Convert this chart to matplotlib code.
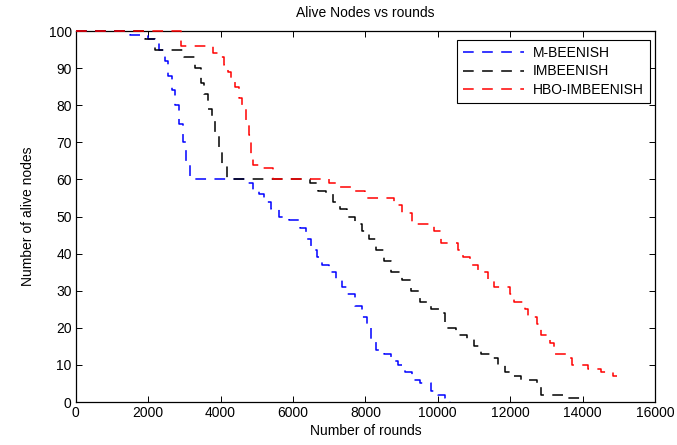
import matplotlib
matplotlib.use("Agg")
import matplotlib.pyplot as plt

# step breakpoints (value holds until the next round)
m_rounds = [0, 1500, 2000, 2300, 2450, 2550, 2650, 2750, 2850, 2950,
            3050, 3150, 4700, 4900, 5050, 5200, 5400, 5600, 5900, 6200,
            6350, 6500, 6650, 6800, 7000, 7200, 7350, 7500, 7700, 7900,
            8050, 8150, 8300, 8500, 8700, 8900, 9100, 9300, 9500, 9800,
            10000, 10200, 10350]
m_alive = [100, 99, 98, 95, 92, 88, 84, 80, 75, 70,
           65, 60, 59, 57, 56, 54, 52, 50, 49, 47,
           44, 41, 39, 37, 35, 33, 31, 29, 26, 23,
           20, 17, 14, 13, 11, 10, 8, 6, 5, 3,
           2, 1, 0]

im_rounds = [0, 1900, 2200, 3000, 3300, 3450, 3550, 3650, 3750, 3850,
             3950, 4050, 4170, 6460, 6700, 6900, 7100, 7300, 7500, 7700,
             7900, 8100, 8300, 8500, 8700, 9000, 9250, 9500, 9800, 10100,
             10200, 10500, 10800, 11000, 11200, 11450, 11650, 11850, 12050, 12300,
             12750, 12850, 13550, 14000]
im_alive = [100, 98, 95, 93, 90, 86, 83, 79, 76, 72,
            68, 64, 60, 59, 57, 56, 54, 52, 50, 48,
            46, 44, 41, 38, 35, 33, 30, 27, 25, 24,
            20, 18, 17, 15, 13, 12, 10, 8, 7, 6,
            5, 2, 1, 0]

hbo_rounds = [0, 2900, 3800, 3950, 4100, 4200, 4300, 4400, 4500, 4600,
              4700, 4780, 4850, 4900, 5100, 5450, 7000, 7300, 7700, 8000,
              8800, 9000, 9300, 9900, 10100, 10550, 10700, 10900, 11100, 11400,
              11550, 12000, 12100, 12400, 12500, 12750, 12850, 13100, 13200, 13600,
              13700, 14150, 14500, 14850, 14950]
hbo_alive = [100, 96, 94, 93, 91, 89, 87, 85, 82, 80,
             76, 72, 67, 64, 63, 60, 59, 58, 57, 55,
             53, 51, 48, 46, 43, 41, 39, 37, 35, 33,
             31, 29, 27, 25, 23, 21, 18, 16, 13, 12,
             10, 9, 8, 7, 7]

plt.rcParams["font.family"] = ["Liberation Sans", "DejaVu Sans"]
plt.rcParams["font.size"] = 10

fig = plt.figure(figsize=(6.77, 4.45), dpi=100)
ax = fig.add_axes([0.112, 0.0966, 0.8555, 0.8334])

# drawn above the frame so the runs along 100 and 0 stay visible
style = dict(drawstyle="steps-post", linestyle=(0, (7, 5.5)), linewidth=1.1,
             clip_on=False, zorder=3)
ax.plot(m_rounds, m_alive, color="#0000ff", label="M-BEENISH", **style)
ax.plot(im_rounds, im_alive, color="black", label="IMBEENISH", **style)
ax.plot(hbo_rounds, hbo_alive, color="#ff0000", label="HBO-IMBEENISH", **style)

ax.set_xlim(0, 16000)
ax.set_ylim(0, 100)
ax.set_xticks(range(0, 16001, 2000))
ax.set_yticks(range(0, 101, 10))
ax.tick_params(direction="in", top=True, right=True, length=4, width=0.7,
               labelsize=10, pad=3)
for s in ax.spines.values():
    s.set_linewidth(0.9)

ax.set_title("Alive Nodes vs rounds", fontsize=10, pad=10)
ax.set_xlabel("Number of rounds", labelpad=3)
ax.set_ylabel("Number of alive nodes", labelpad=10)

leg = ax.legend(loc="upper right", fancybox=False, edgecolor="black",
                framealpha=1, handlelength=4.4, handletextpad=0.6,
                borderpad=0.45, labelspacing=0.3, fontsize=10,
                borderaxespad=0, bbox_to_anchor=(0.991, 0.976))
leg.get_frame().set_linewidth(0.8)
leg.set_zorder(5)

fig.savefig("out.png", dpi=100)
